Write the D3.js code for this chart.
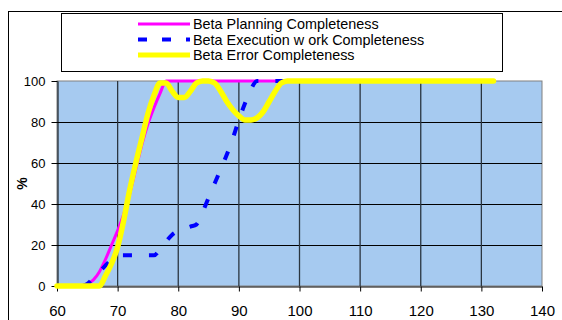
<!DOCTYPE html>
<html>
<head>
<meta charset="utf-8">
<script src="https://cdn.jsdelivr.net/npm/d3@7"></script>
<style>
  body { margin: 0; background: #fff; }
  svg { display: block; font-family: Arial, "Liberation Sans", sans-serif; }
</style>
</head>
<body>
<div id="chart"></div>
<script>
// values
const xTicks = [60, 70, 80, 90, 100, 110, 120, 130, 140];
const yTicks = [0, 20, 40, 60, 80, 100];

const planningX = [60, 64, 65, 66, 67, 68, 69, 70, 71, 72, 73, 74, 75, 76, 77, 78, 97];
const planningY = [0, 0, 1, 3, 7, 13, 20, 27, 35, 45, 57, 69, 79, 87, 94, 100, 100];

const executionX = [60, 64, 65, 66, 67, 68, 69, 70, 76, 77, 79, 82, 83, 84, 85, 86, 87, 88, 89, 90, 91, 92, 93, 132];
const executionY = [0, 0, 1, 4, 7, 10, 13, 15, 15, 18, 25, 29, 30, 36, 43, 50, 57, 64, 72, 81, 89, 96, 100, 100];

const errorX = [60, 67, 68, 69, 70, 71, 72, 73, 74, 75, 76, 77, 78, 79, 80, 81, 82, 83, 84, 85, 86, 87, 88, 89, 90, 91, 92, 93, 94, 95, 96, 97, 98, 132];
const errorY = [0, 0, 5, 11, 19, 32, 47, 60, 72, 84, 93, 99, 99, 95, 92, 92, 95, 99, 100, 100, 99, 95, 90, 86, 83, 81, 81, 82, 85, 90, 95, 99, 100, 100];

const seriesNames = ["Beta Planning Completeness", "Beta Execution w ork Completeness", "Beta Error Completeness"];

const W = 562, H = 320;
const margin = { top: 81, right: 20, bottom: 34, left: 57 };

const svg = d3.select("#chart").append("svg").attr("width", W).attr("height", H);

// chart frame
svg.append("rect")
  .attr("x", 8.5).attr("y", 11.5)
  .attr("width", W).attr("height", H)
  .attr("fill", "#fff").attr("stroke", "#000");

const x = d3.scaleLinear().domain([60, 140]).range([margin.left, W - margin.right]);
const y = d3.scaleLinear().domain([0, 100]).range([H - margin.bottom, margin.top]);

// plot area
svg.append("rect")
  .attr("x", x(60)).attr("y", y(100))
  .attr("width", x(140) - x(60)).attr("height", y(0) - y(100))
  .attr("fill", "#a6caf0").attr("stroke", "#808080");

// grid
svg.append("g").selectAll("line").data(yTicks.slice(1, -1)).join("line")
  .attr("x1", x(60)).attr("x2", x(140))
  .attr("y1", d => Math.round(y(d)) + 0.5).attr("y2", d => Math.round(y(d)) + 0.5)
  .attr("stroke", "#000");
svg.append("g").selectAll("line").data(xTicks.slice(1, -1)).join("line")
  .attr("x1", d => x(d)).attr("x2", d => x(d))
  .attr("y1", y(100)).attr("y2", y(0))
  .attr("stroke", "#2a3540").attr("stroke-width", 1.3);

// axes
svg.append("g")
  .attr("transform", `translate(0,${Math.round(y(0)) + 0.5})`)
  .call(d3.axisBottom(x).tickValues(xTicks).tickSize(5).tickSizeOuter(0).tickPadding(14))
  .call(g => g.selectAll("text").style("font-size", "15px").attr("fill", "#000"))
  .call(g => g.select(".domain").attr("stroke", "#000"));

svg.append("g")
  .attr("transform", `translate(${Math.round(x(60)) + 0.5},0)`)
  .call(d3.axisLeft(y).tickValues(yTicks).tickSize(6).tickSizeOuter(0).tickPadding(6))
  .call(g => g.selectAll("text").style("font-size", "13px").attr("fill", "#000"))
  .call(g => g.select(".domain").attr("stroke", "#000"));

svg.append("text")
  .attr("transform", `translate(27,${(y(0) + y(100)) / 2}) rotate(-90)`)
  .attr("text-anchor", "middle")
  .style("font-size", "14px").style("font-weight", "bold")
  .text("%");

// series
const line = d3.line().x(d => x(d[0])).y(d => y(d[1])).curve(d3.curveMonotoneX);
const zip = (xs, ys) => xs.map((v, i) => [v, ys[i]]);

svg.append("path")
  .datum(zip(planningX, planningY))
  .attr("d", line)
  .attr("fill", "none").attr("stroke", "#ff00ff").attr("stroke-width", 3);

svg.append("path")
  .datum(zip(executionX, executionY))
  .attr("d", line)
  .attr("fill", "none").attr("stroke", "#0000ff").attr("stroke-width", 4)
  .attr("stroke-dasharray", "9,17");

svg.append("path")
  .datum(zip(errorX, errorY))
  .attr("d", line)
  .attr("fill", "none").attr("stroke", "#ffff00").attr("stroke-width", 5.5)
  .attr("stroke-linejoin", "round").attr("stroke-linecap", "round");

// legend
const legend = svg.append("g");
legend.append("rect")
  .attr("x", 61.5).attr("y", 13.5).attr("width", 441).attr("height", 58)
  .attr("fill", "#fff").attr("stroke", "#000");

const legendStyles = [
  { color: "#ff00ff", width: 3, dash: null },
  { color: "#0000ff", width: 4, dash: "9,15" },
  { color: "#ffff00", width: 5, dash: null }
];
seriesNames.forEach((name, i) => {
  const cy = 24 + i * 15.5;
  legend.append("line")
    .attr("x1", 138).attr("x2", 190).attr("y1", cy).attr("y2", cy)
    .attr("stroke", legendStyles[i].color)
    .attr("stroke-width", legendStyles[i].width)
    .attr("stroke-dasharray", legendStyles[i].dash);
  legend.append("text")
    .attr("x", 193).attr("y", cy).attr("dy", "0.35em")
    .style("font-size", "14.4px")
    .text(name);
});
</script>
</body>
</html>
